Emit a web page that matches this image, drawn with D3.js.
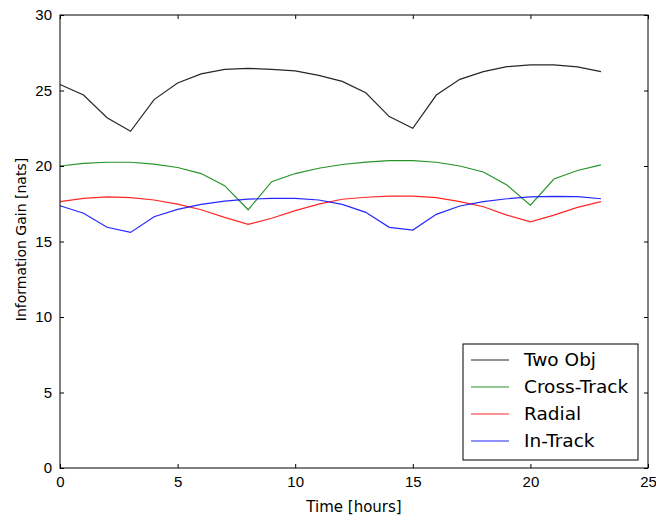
<!DOCTYPE html>
<html>
<head>
<meta charset="utf-8">
<script src="https://cdn.jsdelivr.net/npm/d3@7"></script>
<style>
	body { margin: 0; background: #fff; }
	svg { display: block; font-family: 'DejaVu Sans', sans-serif; }
</style>
</head>
<body>
<div id="chart"></div>
<script>
// hours 0..23
const hours = d3.range( 0, 24 );

const twoObj = [ 25.4, 24.7, 23.2, 22.3, 24.4, 25.5, 26.1, 26.4, 26.47, 26.4, 26.3, 26.0,
	25.6, 24.85, 23.27, 22.5, 24.7, 25.74, 26.25, 26.58, 26.7, 26.7, 26.57, 26.25 ];
const crossTrack = [ 20.0, 20.18, 20.25, 20.25, 20.13, 19.9, 19.5, 18.7, 17.1, 18.96, 19.5, 19.85,
	20.1, 20.26, 20.35, 20.35, 20.25, 20.0, 19.6, 18.74, 17.4, 19.14, 19.7, 20.07 ];
const radial = [ 17.64, 17.86, 17.95, 17.9, 17.75, 17.48, 17.1, 16.6, 16.14, 16.54, 17.04, 17.48,
	17.8, 17.93, 18.0, 18.0, 17.9, 17.64, 17.3, 16.75, 16.3, 16.75, 17.26, 17.64 ];
const inTrack = [ 17.37, 16.87, 15.94, 15.6, 16.64, 17.13, 17.46, 17.68, 17.8, 17.86, 17.85, 17.75,
	17.46, 16.93, 15.94, 15.76, 16.8, 17.35, 17.64, 17.83, 17.95, 17.99, 17.97, 17.83 ];

const seriesNames = [ 'Two Obj', 'Cross-Track', 'Radial', 'In-Track' ];
const seriesColors = [ '#000000', '#008000', '#ff0000', '#0000ff' ];
const seriesValues = [ twoObj, crossTrack, radial, inTrack ];

const xTicks = [ 0, 5, 10, 15, 20, 25 ];
const yTicks = [ 0, 5, 10, 15, 20, 25, 30 ];

const width = 656;
const height = 520;
const margin = { top: 15, right: 8, bottom: 52, left: 60 };
const plotW = width - margin.left - margin.right;
const plotH = height - margin.top - margin.bottom;

const svg = d3.select( '#chart' ).append( 'svg' )
	.attr( 'width', width )
	.attr( 'height', height );

const g = svg.append( 'g' )
	.attr( 'transform', `translate(${ margin.left },${ margin.top })` );

const x = d3.scaleLinear().domain( [ 0, 25 ] ).range( [ 0, plotW ] );
const y = d3.scaleLinear().domain( [ 0, 30 ] ).range( [ plotH, 0 ] );

// lines
const line = d3.line()
	.x( ( d, i ) => x( hours[ i ] ) )
	.y( ( d ) => y( d ) );

seriesValues.forEach( ( vals, i ) => {
	g.append( 'path' )
		.datum( vals )
		.attr( 'd', line )
		.attr( 'fill', 'none' )
		.attr( 'stroke', seriesColors[ i ] )
		.attr( 'stroke-width', 1.2 )
		.attr( 'stroke-opacity', 0.85 );
} );

// axes, matplotlib classic: ticks inward on all four sides
const tickLen = 4;
const styleAxis = ( sel ) => {
	sel.select( '.domain' ).remove();
	sel.selectAll( 'line' ).attr( 'stroke', '#000' );
	sel.selectAll( 'text' ).attr( 'fill', '#000' ).style( 'font-size', '15px' );
};

g.append( 'g' )
	.attr( 'transform', `translate(0,${ plotH })` )
	.call( d3.axisBottom( x ).tickValues( xTicks ).tickSize( -tickLen ).tickPadding( 8 ) )
	.call( styleAxis );
g.append( 'g' )
	.call( d3.axisTop( x ).tickValues( xTicks ).tickSize( -tickLen ).tickFormat( '' ) )
	.call( styleAxis );
g.append( 'g' )
	.call( d3.axisLeft( y ).tickValues( yTicks ).tickSize( -tickLen ).tickPadding( 8 ) )
	.call( styleAxis );
g.append( 'g' )
	.attr( 'transform', `translate(${ plotW },0)` )
	.call( d3.axisRight( y ).tickValues( yTicks ).tickSize( -tickLen ).tickFormat( '' ) )
	.call( styleAxis );

g.append( 'rect' )
	.attr( 'width', plotW )
	.attr( 'height', plotH )
	.attr( 'fill', 'none' )
	.attr( 'stroke', '#000' )
	.attr( 'stroke-width', 1 );

// axis labels
svg.append( 'text' )
	.attr( 'x', margin.left + plotW / 2 )
	.attr( 'y', height - 8 )
	.attr( 'text-anchor', 'middle' )
	.style( 'font-size', '15px' )
	.text( 'Time [hours]' );

svg.append( 'text' )
	.attr( 'transform', `translate(26,${ margin.top + plotH / 2 - 2 }) rotate(-90)` )
	.attr( 'text-anchor', 'middle' )
	.style( 'font-size', '14px' )
	.text( 'Information Gain [nats]' );

// legend
const legend = svg.append( 'g' ).attr( 'transform', 'translate(463,344)' );
legend.append( 'rect' )
	.attr( 'width', 175 )
	.attr( 'height', 116 )
	.attr( 'fill', '#fff' )
	.attr( 'stroke', '#000' );

seriesNames.forEach( ( name, i ) => {
	const row = legend.append( 'g' ).attr( 'transform', `translate(0,${ 16 + i * 27 })` );
	row.append( 'line' )
		.attr( 'x1', 8 ).attr( 'x2', 46 )
		.attr( 'stroke', seriesColors[ i ] )
		.attr( 'stroke-width', 1.2 )
		.attr( 'stroke-opacity', 0.85 );
	row.append( 'text' )
		.attr( 'x', 61 )
		.attr( 'dy', '0.35em' )
		.style( 'font-size', '18.5px' )
		.text( name );
} );
</script>
</body>
</html>
